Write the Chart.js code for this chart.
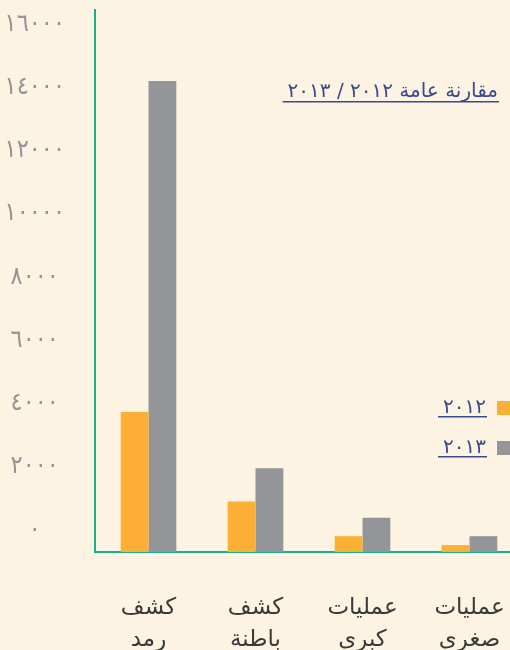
<!DOCTYPE html>
<html>
<head>
<meta charset="utf-8">
<script src="https://cdn.jsdelivr.net/npm/chart.js@4/dist/chart.umd.min.js"></script>
<style>
  body { margin: 0; background: #FDF3E3; overflow: hidden; }
  #wrap { width: 523px; height: 650px; }
</style>
</head>
<body>
<div id="wrap"><canvas id="chart" width="523" height="650"></canvas></div>
<script>
// categories (left to right)
var categories = [['كشف', 'رمد'], ['كشف', 'باطنة'], ['عمليات', 'كبرى'], ['عمليات', 'صغرى']];
var values2012 = [4430, 1600, 500, 220];
var values2013 = [14900, 2650, 1080, 500];
var seriesLabels = ['٢٠١٢', '٢٠١٣'];
var yTickValues = [0, 2000, 4000, 6000, 8000, 10000, 12000, 14000, 16000];
var yTickLabels = ['٠', '٢٠٠٠', '٤٠٠٠', '٦٠٠٠', '٨٠٠٠', '١٠٠٠٠', '١٢٠٠٠', '١٤٠٠٠', '١٦٠٠٠'];
var titleText = 'مقارنة عامة ٢٠١٢ / ٢٠١٣';

var navy = '#3B4A8E';
var teal = '#1BAE8A';

// title + underlined legend drawn inside the plot, like the original
var overlay = {
  id: 'overlay',
  afterDraw: function(chart) {
    var ctx = chart.ctx;
    ctx.save();
    ctx.direction = 'rtl';
    ctx.textAlign = 'right';
    ctx.textBaseline = 'alphabetic';
    ctx.fillStyle = navy;
    ctx.font = '20px "DejaVu Sans"';
    var w = ctx.measureText(titleText).width;
    ctx.fillText(titleText, 498, 97);
    ctx.fillRect(498 - w - 5, 101, w + 6, 1.5);

    chart.data.datasets.forEach(function(ds, i) {
      var y = 413 + i * 40;
      ctx.fillStyle = ds.backgroundColor;
      ctx.fillRect(497, y - 12, 14, 14);
      ctx.fillStyle = navy;
      ctx.font = '20px "DejaVu Sans"';
      var tw = ctx.measureText(ds.label).width;
      ctx.fillText(ds.label, 486, y);
      ctx.fillRect(486 - tw - 5, y + 3, tw + 6, 1.5);
    });
    ctx.restore();
  }
};

new Chart(document.getElementById('chart'), {
  type: 'bar',
  data: {
    labels: categories,
    datasets: [
      { label: seriesLabels[0], data: values2012, backgroundColor: '#FBAF34' },
      { label: seriesLabels[1], data: values2013, backgroundColor: '#939598' }
    ]
  },
  options: {
    responsive: false,
    animation: false,
    layout: { padding: { top: 10, left: 0, right: 0, bottom: 0 } },
    datasets: { bar: { categoryPercentage: 0.52, barPercentage: 1.0 } },
    plugins: {
      legend: { display: false },
      title: { display: false },
      tooltip: { enabled: false }
    },
    scales: {
      x: {
        grid: { display: false, drawTicks: false },
        border: { display: true, color: teal, width: 2 },
        ticks: {
          color: '#3A3A3A',
          font: { family: 'DejaVu Sans', size: 23, lineHeight: 1.4 },
          padding: 40,
          maxRotation: 0
        },
        afterFit: function(scale) {
          scale.height = 98;
          scale.paddingLeft = 0;
          scale.paddingRight = 0;
        }
      },
      y: {
        min: 0,
        max: 17150,
        grid: { display: false, drawTicks: false },
        border: { display: true, color: teal, width: 2 },
        afterBuildTicks: function(scale) {
          scale.ticks = yTickValues.map(function(v) { return { value: v }; });
        },
        ticks: {
          autoSkip: false,
          color: '#939598',
          font: { family: '"DejaVu Sans Condensed", "DejaVu Sans"', size: 25 },
          crossAlign: 'center',
          padding: 30,
          labelOffset: -22,
          callback: function(v) {
            return yTickLabels[yTickValues.indexOf(v)];
          }
        },
        afterFit: function(scale) {
          scale.width = 95;
          scale.paddingTop = 0;
          scale.paddingBottom = 0;
        }
      }
    }
  },
  plugins: [overlay]
});
</script>
</body>
</html>
